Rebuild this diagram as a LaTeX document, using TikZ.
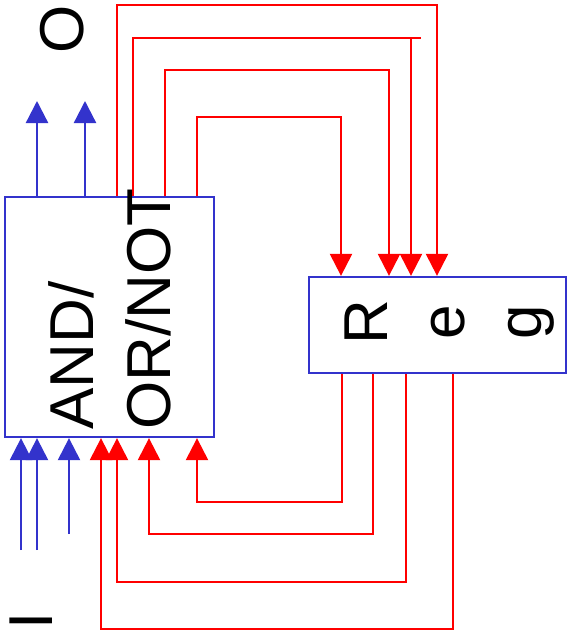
\documentclass[tikz,border=0pt]{standalone}
\usepackage{fontspec}
\setmainfont{Liberation Sans}
\usetikzlibrary{positioning, calc, arrows.meta}
\definecolor{Wire}{HTML}{3333CC}
\definecolor{Loop}{HTML}{FF0000}
\tikzset{
    blockbox/.style={rectangle, draw=Wire, line width=2.3pt, inner sep=0pt},
    bigtext/.style={font=\fontsize{62}{77}\selectfont, inner sep=0pt, text=black},
    wirearrow/.style={-{Triangle[width=22pt, length=22pt]}, line width=2.3pt, color=Wire},
    looparrow/.style={-{Triangle[width=22pt, length=22pt]}, line width=2.3pt, color=Loop},
}

\begin{document}
\begin{tikzpicture}[x=1pt, y=-1pt]
        \useasboundingbox (0,0) rectangle (567,642);

        % Blocks
        \node[blockbox, minimum width=209pt, minimum height=240pt] (gates) at (109.5,317) {};
        \node[blockbox, minimum width=257pt, minimum height=96pt] (reg) at (437.5,325) {};

        % Feedback from gates to register
        \foreach \a/\h/\b in {117/5/437, 133/38/411, 165/70/389, 197/117/341}
            \draw[looparrow] (\a,0 |- gates.north) |- (\b,\h) -- (\b,0 |- reg.north);
        \draw[Loop, line width=2.3pt] (411,38) -- (421,38);

        % Feedback from register to gates
        \foreach \a/\h/\b in {342/502/197, 373/534/149, 406/582/117, 453/629/101}
            \draw[looparrow] (\a,0 |- reg.south) |- (\b,\h) -- (\b,0 |- gates.south);

        % Inputs and outputs
        \foreach \i/\x/\y in {1/21/550, 2/37/550, 3/69/534} {
            \coordinate (in\i) at (\x,\y);
            \draw[wirearrow] (in\i) -- (in\i |- gates.south);
        }
        \foreach \i/\x in {1/37, 2/85} {
            \coordinate (out\i) at (\x,101);
            \draw[wirearrow] (out\i |- gates.north) -- (out\i);
        }

        % Labels
        \node[bigtext, rotate=90, anchor=north west, align=left] (gatestext) at (48,430) {AND/\\OR/NOT};
        \node[bigtext, rotate=90, anchor=north, align=center] (regtext) at (345,322) {R\\e\\g};
        \node[bigtext, rotate=90] (outlabel) at (62,29) {O};
        \node[bigtext, rotate=90] (inlabel) at (31,621) {I};
    \end{tikzpicture}
\end{document}
